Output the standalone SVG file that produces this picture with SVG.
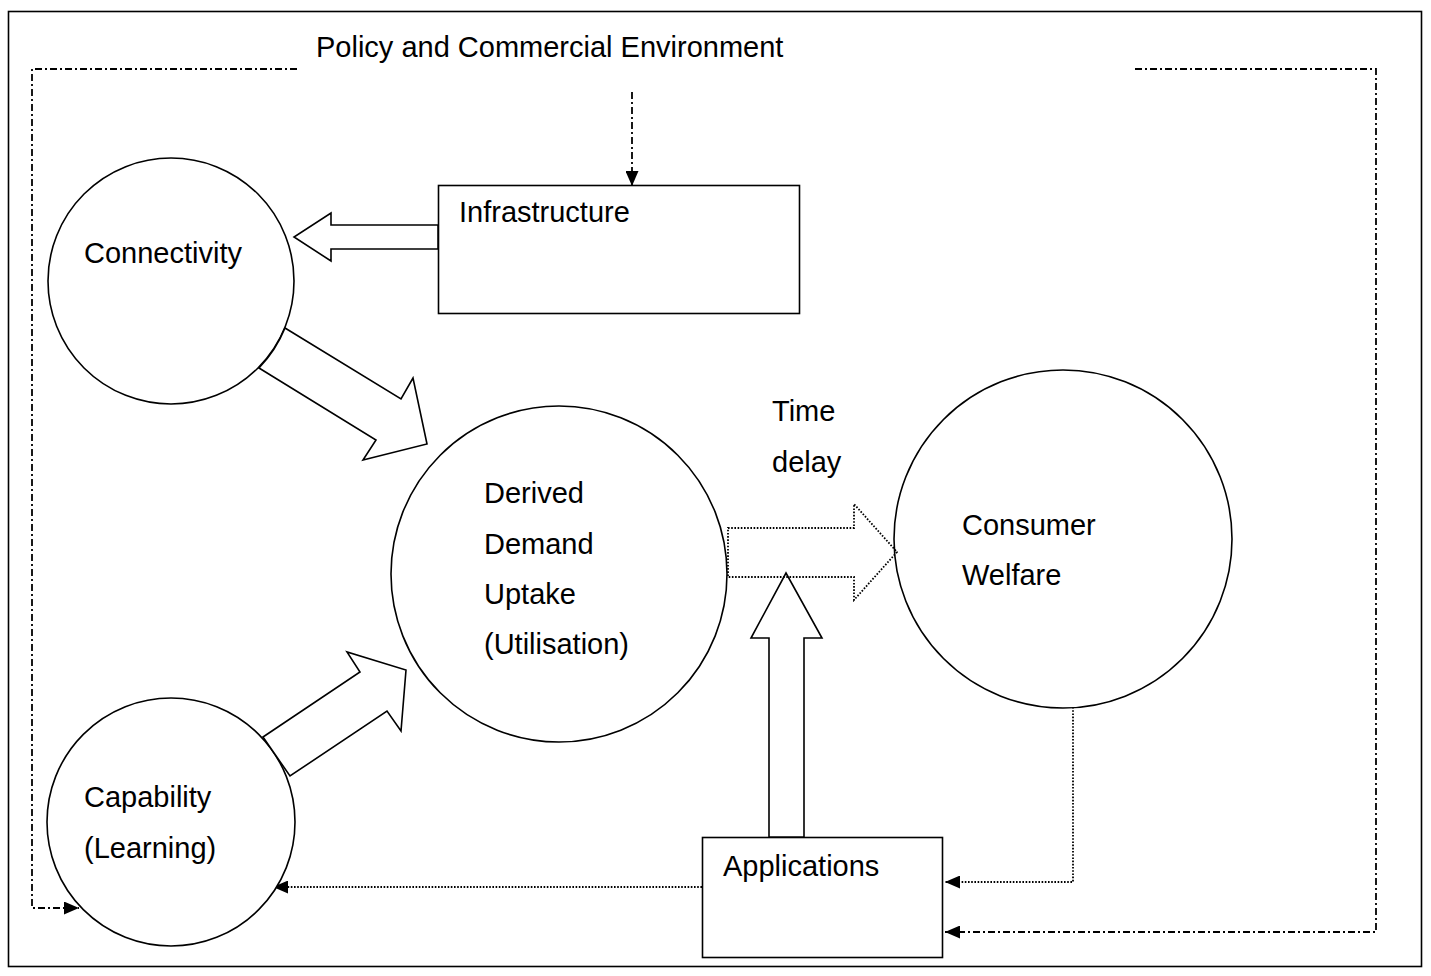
<svg xmlns="http://www.w3.org/2000/svg" width="1431" height="976" viewBox="0 0 1431 976">
<defs>
<style>
.node{fill:#fff;stroke:#000;stroke-width:1.6}
.blk{fill:#fff;stroke:#000;stroke-width:1.6;stroke-linejoin:miter}
.dotblk{fill:none;stroke:#000;stroke-width:1.8;stroke-dasharray:1.6 1.6}
.dd{fill:none;stroke:#000;stroke-width:1.8;stroke-dasharray:7 3 2 3}
.dot{fill:none;stroke:#000;stroke-width:1.8;stroke-dasharray:1.6 1.6}
text{font-family:"Liberation Sans",Arial,sans-serif;font-size:29px;fill:#000}
</style>
<marker id="ah" viewBox="0 0 15 13" refX="15" refY="6.5" markerWidth="15" markerHeight="13" markerUnits="userSpaceOnUse" orient="auto">
<path d="M0,0 L15,6.5 L0,13 z" fill="#000" stroke="none"/>
</marker>
</defs>
<rect x="0" y="0" width="1431" height="976" fill="#fff"/>
<rect x="8.5" y="11.5" width="1413" height="955" fill="none" stroke="#000" stroke-width="1.6"/>
<text x="316" y="57">Policy and Commercial Environment</text>

<g id="connectors">
<polyline class="dd" points="297,69 32,69 32,908 79,908" marker-end="url(#ah)"/>
<polyline class="dd" points="1135,69 1376,69 1376,932 945,932" marker-end="url(#ah)"/>
<line class="dd" x1="632" y1="92" x2="632" y2="186" marker-end="url(#ah)"/>
<polyline class="dot" points="1073,707 1073,882 945,882" marker-end="url(#ah)"/>
<line class="dot" x1="702" y1="887" x2="273" y2="887" marker-end="url(#ah)"/>
</g>

<g id="connectivity">
<circle class="node" cx="171" cy="281" r="123"/>
<text x="84" y="263">Connectivity</text>
</g>
<g id="infrastructure">
<rect class="node" x="438.5" y="185.5" width="361" height="128"/>
<text x="459" y="222">Infrastructure</text>
</g>
<g id="capability">
<circle class="node" cx="171" cy="822" r="124"/>
<text x="84" y="807">Capability</text>
<text x="84" y="858">(Learning)</text>
</g>
<g id="derived">
<circle class="node" cx="559" cy="574" r="168"/>
<text x="484" y="503">Derived</text>
<text x="484" y="554">Demand</text>
<text x="484" y="604">Uptake</text>
<text x="484" y="654">(Utilisation)</text>
</g>
<g id="consumer">
<circle class="node" cx="1063" cy="539" r="169"/>
<text x="962" y="535">Consumer</text>
<text x="962" y="585">Welfare</text>
</g>
<g id="applications">
<rect class="node" x="702.5" y="837.5" width="240" height="120"/>
<text x="723" y="876">Applications</text>
</g>
<g id="time-delay">
<text x="772" y="421">Time</text>
<text x="772" y="472">delay</text>
</g>

<g id="block-arrows">
<polygon class="blk" points="438,225 331,225 331,213 294,237 331,261 331,249 438,249"/>
<path class="blk" d="M259,368 L376,440 L363,460 L427,444 L413,378 L401,399 L285,328 A126,126 0 0 1 259,368 z"/>
<polygon class="blk" points="263,737 360,672 347,652 406,670 401,731 387,711 290,776"/>
<polygon class="blk" points="769,837 769,638 751,638 786,573 822,638 804,638 804,837"/>
<polygon class="dotblk" points="728,528 854,528 854,504 897,552 854,600 854,577 728,577"/>
</g>
</svg>
